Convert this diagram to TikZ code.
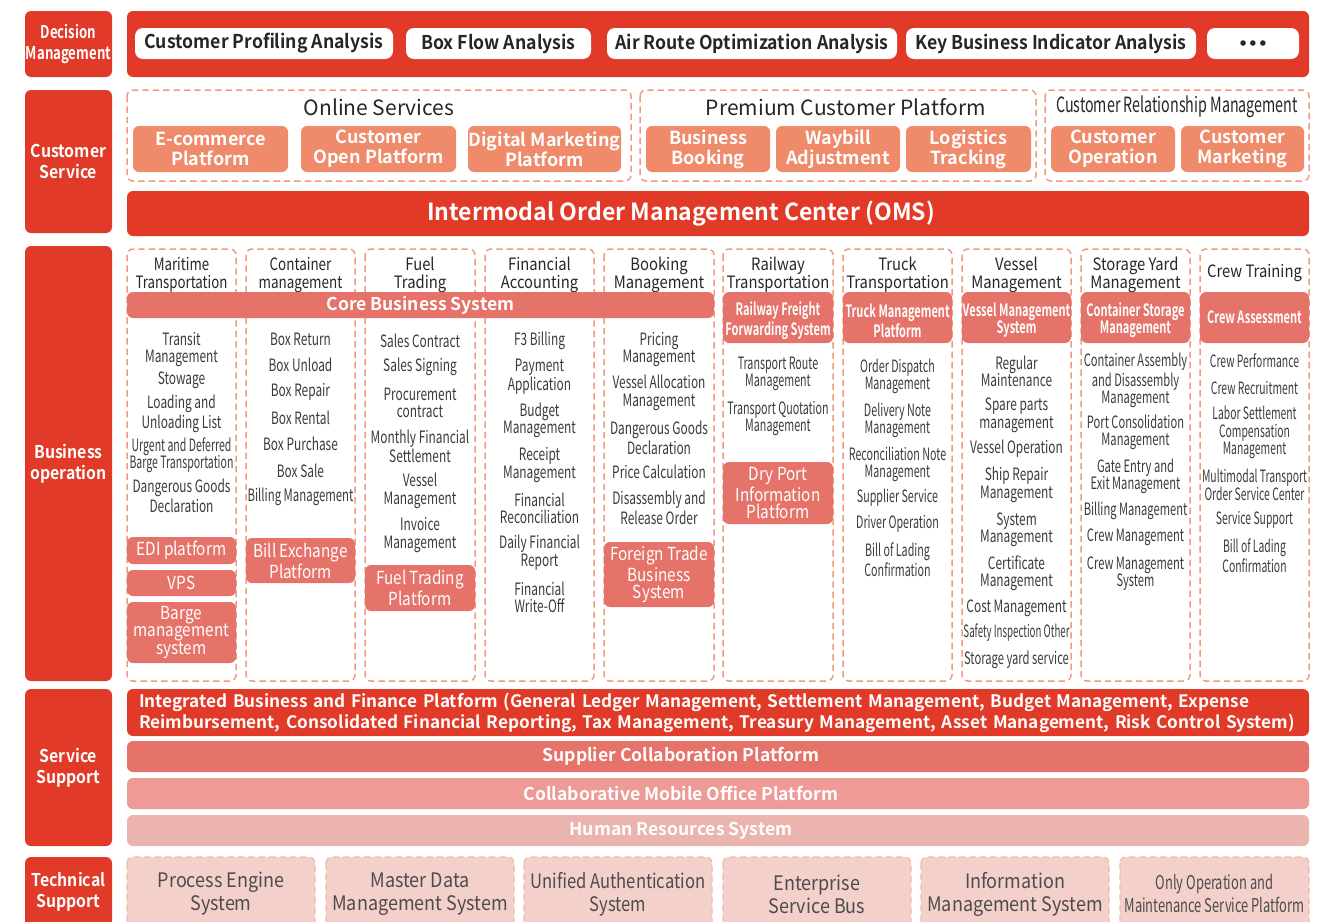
\documentclass[tikz,border=0pt]{standalone}
\usepackage{fontspec}
\setmainfont{Noto Sans CJK SC}[BoldFont={Noto Sans CJK SC Bold}]
\newcommand{\condfont}[1]{\fontspec{Noto Sans CJK SC}[FakeStretch=#1]}
\newcommand{\condbold}[1]{\fontspec{Noto Sans CJK SC Bold}[FakeStretch=#1]}
\usepackage{tikz}

\definecolor{darkred}{HTML}{E13A28}
\definecolor{salmon}{HTML}{EF8B6B}
\definecolor{coral}{HTML}{E5736A}
\definecolor{rose}{HTML}{EE9A96}
\definecolor{blush}{HTML}{EBB4AE}
\definecolor{techpink}{HTML}{F4D0CB}
\definecolor{dashcol}{HTML}{F29A80}
\definecolor{itemgray}{HTML}{3A3A3A}

\tikzset{
  sidelabel/.style={fill=darkred, rounded corners=3pt},
  labeltext/.style={text=white, align=center, inner sep=0pt, font=\condbold{0.9}\fontsize{8.8}{10.3}\selectfont},
  redbar/.style={fill=darkred, rounded corners=3pt},
  pill/.style={fill=white, rounded corners=4pt},
  pilltext/.style={text=black!85, inner sep=0pt, font=\condbold{0.93}\fontsize{9.5}{11}\selectfont},
  group/.style={draw=dashcol, dashed, dash pattern=on 3.2pt off 2pt, line width=0.75pt, rounded corners=3pt},
  grouptitle/.style={text=black!85, inner sep=0pt, font=\fontsize{10.5}{13}\selectfont},
  csbox/.style={fill=salmon, rounded corners=3pt},
  csboxtext/.style={text=white, align=center, inner sep=0pt, font=\bfseries\fontsize{9}{10}\selectfont},
  bartext/.style={text=white, inner sep=0pt, xshift=-18.5pt, font=\condbold{0.98}\fontsize{11.75}{14}\selectfont},
  titlefont/.style={font=\condfont{#1}\fontsize{8.5}{9}\selectfont},
  coltitle/.style={text=black!85, align=center, inner sep=0pt, titlefont=0.87},
  subbox/.style={fill=coral, rounded corners=3pt},
  headtext/.style={text=white, align=center, inner sep=0pt, font=\condbold{0.65}\fontsize{8.5}{8.5}\selectfont},
  subtext/.style={text=white, align=center, inner sep=0pt, font=\condfont{0.85}\fontsize{9}{8.75}\selectfont},
  itemfont/.style={font=\condfont{#1}\fontsize{8.5}{8.75}\selectfont},
  item/.style={text=itemgray, align=center, inner sep=0pt, itemfont=0.70},
  supbar/.style={rounded corners=3pt},
  suptext/.style={text=white, inner sep=0pt, font=\bfseries\fontsize{8.8}{10.5}\selectfont},
  techbox/.style={fill=techpink, draw=dashcol!70, dashed, dash pattern=on 3.2pt off 2pt, line width=0.6pt, rounded corners=3pt},
  techfont/.style={font=\condfont{#1}\fontsize{10}{11.5}\selectfont},
  techtext/.style={text=black!70, align=center, inner sep=0pt, yshift=-1pt, techfont=0.9}
}

\begin{document}
\begin{tikzpicture}[x=0.5pt, y=-0.5pt]

    \useasboundingbox (0,0) rectangle (1333,921);
    \clip (0,0) rectangle (1333,921);

    % decision management
    \path[sidelabel] (25,11) rectangle node[labeltext, font=\condbold{0.75}\fontsize{8.8}{10.3}\selectfont] (dm) {Decision\\Management} (112,77);
    \path[redbar] (127,11) rectangle (1309,77);
    \path[pill] (135,28) rectangle node[pilltext] (cpa) {Customer Profiling Analysis} (393,59);
    \path[pill] (406,28) rectangle node[pilltext] (bfa) {Box Flow Analysis} (591,59);
    \path[pill] (607,28) rectangle node[pilltext] (aro) {Air Route Optimization Analysis} (897,59);
    \path[pill] (906,28) rectangle node[pilltext] (kbi) {Key Business Indicator Analysis} (1196,59);
    \path[pill] (1207,28) rectangle node[pilltext, font=\fontsize{5.8}{7}\selectfont] (more) {${\bullet}\kern1.1pt{\bullet}\kern1.1pt{\bullet}$} (1299,59);

    % customer service
    \path[sidelabel] (25,90) rectangle node[labeltext] (cs) {Customer\\Service} (112,233);

    \path[group] (127,90) rectangle (631,181);
    \node[grouptitle] (os) at (379,107) {Online Services};
    \path[csbox] (133,126) rectangle node[csboxtext] (ecp) {E-commerce\\Platform} (288,172);
    \path[csbox] (301,126) rectangle node[csboxtext] (cop) {Customer\\Open Platform} (456,172);
    \path[csbox] (468,126) rectangle node[csboxtext] (dmp) {Digital Marketing\\Platform} (621,172);

    \path[group] (640,90) rectangle (1036,181);
    \node[grouptitle] (pcp) at (846,107) {Premium Customer Platform};
    \path[csbox] (646,126) rectangle node[csboxtext] (bb) {Business\\Booking} (770,172);
    \path[csbox] (776,126) rectangle node[csboxtext] (wa) {Waybill\\Adjustment} (900,172);
    \path[csbox] (906,126) rectangle node[csboxtext] (lt) {Logistics\\Tracking} (1031,172);

    \path[group] (1045,90) rectangle (1309,181);
    \node[grouptitle, font=\condfont{0.68}\fontsize{10.5}{13}\selectfont] (crm) at (1177,107) {Customer Relationship Management};
    \path[csbox] (1051,126) rectangle node[csboxtext] (co) {Customer\\Operation} (1175,172);
    \path[csbox] (1181,126) rectangle node[csboxtext] (cmk) {Customer\\Marketing} (1304,172);

    \path[redbar] (127,191) rectangle node[bartext] (oms) {Intermodal Order Management Center (OMS)} (1309,236);

    % business operation
    \path[sidelabel] (25,246) rectangle node[labeltext] (bo) {Business\\operation} (112,681);

    \path[group] (127,249) rectangle (236,681);
    \path[group] (246,249) rectangle (355,681);
    \path[group] (365,249) rectangle (475,681);
    \path[group] (485,249) rectangle (594,681);
    \path[group] (604,249) rectangle (714,681);
    \path[group] (723,249) rectangle (833,681);
    \path[group] (843,249) rectangle (952,681);
    \path[group] (962,249) rectangle (1071,681);
    \path[group] (1081,249) rectangle (1190,681);
    \path[group] (1200,249) rectangle (1309,681);

    \node[coltitle, titlefont=0.78] (t1) at (181.5,275) {Maritime\\Transportation};
    \node[coltitle, titlefont=0.79] (t2) at (300.5,275) {Container\\management};
    \node[coltitle] (t3) at (420,275) {Fuel\\Trading};
    \node[coltitle] (t4) at (539.5,275) {Financial\\Accounting};
    \node[coltitle] (t5) at (659,275) {Booking\\Management};
    \node[coltitle] (t6) at (778,275) {Railway\\Transportation};
    \node[coltitle] (t7) at (897.5,275) {Truck\\Transportation};
    \node[coltitle] (t8) at (1016.5,275) {Vessel\\Management};
    \node[coltitle] (t9) at (1135.5,275) {Storage Yard\\Management};
    \node[coltitle] (t10) at (1254.5,273) {Crew Training};

    \path[subbox] (127,292) rectangle node[suptext] (cbs) {Core Business System} (714,318);
    \path[subbox] (723,292) rectangle node[headtext, yshift=-1.5pt] (h6) {Railway Freight\\Forwarding System} (833,343);
    \path[subbox] (843,292) rectangle node[headtext, yshift=-1.5pt] (h7) {Truck Management\\Platform} (952,343);
    \path[subbox] (962,292) rectangle node[headtext, yshift=-1.5pt] (h8) {Vessel Management\\System} (1071,343);
    \path[subbox] (1081,292) rectangle node[headtext, yshift=-1.5pt] (h9) {Container Storage\\Management} (1190,343);
    \path[subbox] (1200,292) rectangle node[headtext] (h10) {Crew Assessment} (1309,343);

    % maritime
    \node[item] (mt1) at (181.5,349.5) {Transit\\Management};
    \node[item] (mt2) at (181.5,380) {Stowage};
    \node[item] (mt3) at (181.5,414) {Loading and\\Unloading List};
    \node[item, itemfont=0.62] (mt4) at (181.5,455) {Urgent and Deferred\\Barge Transportation};
    \node[item] (mt5) at (181.5,495.5) {Dangerous Goods\\Declaration};
    \path[subbox] (127,537) rectangle node[subtext] (edi) {EDI platform} (236,564);
    \path[subbox] (127,570) rectangle node[subtext] (vps) {VPS} (236,596);
    \path[subbox] (127,602) rectangle node[subtext] (bms) {Barge\\management\\system} (236,663);

    % container
    \node[item] (cm1) at (300.5,339) {Box Return};
    \node[item] (cm2) at (300.5,365) {Box Unload};
    \node[item] (cm3) at (300.5,392) {Box Repair};
    \node[item] (cm4) at (300.5,418) {Box Rental};
    \node[item] (cm5) at (300.5,444) {Box Purchase};
    \node[item] (cm6) at (300.5,471) {Box Sale};
    \node[item, itemfont=0.67] (cm7) at (300.5,497) {Billing Management};
    \path[subbox] (246,538) rectangle node[subtext] (bep) {Bill Exchange\\Platform} (355,583);

    % fuel
    \node[item] (ft1) at (420,341) {Sales Contract};
    \node[item] (ft2) at (420,367) {Sales Signing};
    \node[item] (ft3) at (420,403) {Procurement\\contract};
    \node[item] (ft4) at (420,446.5) {Monthly Financial\\Settlement};
    \node[item] (ft5) at (420,491) {Vessel\\Management};
    \node[item] (ft6) at (420,535) {Invoice\\Management};
    \path[subbox] (365,565) rectangle node[subtext] (ftp) {Fuel Trading\\Platform} (475,611);

    % financial
    \node[item] (fa1) at (539.5,341) {F3 Billing};
    \node[item] (fa2) at (539.5,376.5) {Payment\\Application};
    \node[item] (fa3) at (539.5,420.5) {Budget\\Management};
    \node[item] (fa4) at (539.5,465) {Receipt\\Management};
    \node[item] (fa5) at (539.5,508.5) {Financial\\Reconciliation};
    \node[item] (fa6) at (539.5,552.5) {Daily Financial\\Report};
    \node[item] (fa7) at (539.5,597.5) {Financial\\Write-Off};

    % booking
    \node[item] (bk1) at (659,349.5) {Pricing\\Management};
    \node[item] (bk2) at (659,393) {Vessel Allocation\\Management};
    \node[item] (bk3) at (659,437.5) {Dangerous Goods\\Declaration};
    \node[item] (bk4) at (659,472) {Price Calculation};
    \node[item] (bk5) at (659,508) {Disassembly and\\Release Order};
    \path[subbox] (604,542) rectangle node[subtext] (ftb) {Foreign Trade\\Business\\System} (714,607);

    % railway
    \node[item, itemfont=0.63] (rw1) at (778,374) {Transport Route\\Management};
    \node[item, itemfont=0.63] (rw2) at (778,418.5) {Transport Quotation\\Management};
    \path[subbox] (723,462) rectangle node[subtext] (dpi) {Dry Port\\Information\\Platform} (833,524);

    % truck
    \node[item, itemfont=0.63] (tr1) at (897.5,376.5) {Order Dispatch\\Management};
    \node[item, itemfont=0.63] (tr2) at (897.5,420.5) {Delivery Note\\Management};
    \node[item, itemfont=0.63] (tr3) at (897.5,464.5) {Reconciliation Note\\Management};
    \node[item, itemfont=0.63] (tr4) at (897.5,498) {Supplier Service};
    \node[item, itemfont=0.63] (tr5) at (897.5,524) {Driver Operation};
    \node[item, itemfont=0.63] (tr6) at (897.5,560) {Bill of Lading\\Confirmation};

    % vessel
    \node[item] (vm1) at (1016.5,371.5) {Regular\\Maintenance};
    \node[item] (vm2) at (1016.5,415.5) {Spare parts\\management};
    \node[item] (vm3) at (1016.5,449) {Vessel Operation};
    \node[item] (vm4) at (1016.5,485) {Ship Repair\\Management};
    \node[item] (vm5) at (1016.5,530) {System\\Management};
    \node[item] (vm6) at (1016.5,573) {Certificate\\Management};
    \node[item] (vm7) at (1016.5,608) {Cost Management};
    \node[item, itemfont=0.57] (vm8) at (1016.5,633) {Safety Inspection Other};
    \node[item, itemfont=0.66] (vm9) at (1016.5,660) {Storage yard service};

    % storage yard
    \node[item, itemfont=0.655] (sy1) at (1135.5,380.5) {Container Assembly\\and Disassembly\\Management};
    \node[item, itemfont=0.655] (sy2) at (1135.5,432.5) {Port Consolidation\\Management};
    \node[item, itemfont=0.655] (sy3) at (1135.5,476.5) {Gate Entry and\\Exit Management};
    \node[item, itemfont=0.655] (sy4) at (1135.5,511) {Billing Management};
    \node[item, itemfont=0.655] (sy5) at (1135.5,537) {Crew Management};
    \node[item, itemfont=0.655] (sy6) at (1135.5,573.5) {Crew Management\\System};

    % crew training
    \node[item, itemfont=0.61] (ct1) at (1254.5,361) {Crew Performance};
    \node[item, itemfont=0.61] (ct2) at (1254.5,388) {Crew Recruitment};
    \node[item, itemfont=0.61] (ct3) at (1254.5,432.5) {Labor Settlement\\Compensation\\Management};
    \node[item, itemfont=0.61] (ct4) at (1254.5,485) {Multimodal Transport\\Order Service Center};
    \node[item, itemfont=0.61] (ct5) at (1254.5,520) {Service Support};
    \node[item, itemfont=0.61] (ct6) at (1254.5,555.5) {Bill of Lading\\Confirmation};

    % service support
    \path[sidelabel] (25,689) rectangle node[labeltext] (ss) {Service\\Support} (112,846);
    \path[redbar] (127,689) rectangle node[suptext, font=\bfseries\fontsize{8.6}{10.5}\selectfont, align=left, text width=579pt] (ibf) {Integrated Business and Finance Platform (General Ledger Management, Settlement Management, Budget Management, Expense\\Reimbursement, Consolidated Financial Reporting, Tax Management, Treasury Management, Asset Management, Risk Control System)} (1309,736);
    \path[supbar, fill=coral] (127,741) rectangle node[suptext, xshift=-18.5pt] (scp) {Supplier Collaboration Platform} (1309,772);
    \path[supbar, fill=rose] (127,778) rectangle node[suptext, xshift=-18.5pt] (cmo) {Collaborative Mobile Office Platform} (1309,809);
    \path[supbar, fill=blush] (127,815) rectangle node[suptext, xshift=-18.5pt] (hrs) {Human Resources System} (1309,846);

    % technical support
    \path[sidelabel] (25,857) rectangle node[labeltext] (ts) {Technical\\Support} (112,927);
    \path[techbox] (127,857) rectangle node[techtext] (pes) {Process Engine\\System} (315,927);
    \path[techbox] (326,857) rectangle node[techtext] (mdm) {Master Data\\Management System} (514,927);
    \path[techbox] (524,857) rectangle node[techtext, techfont=0.83] (uas) {Unified Authentication\\System} (712,927);
    \path[techbox] (723,857) rectangle node[techtext] (esb) {Enterprise\\Service Bus} (911,927);
    \path[techbox] (921,857) rectangle node[techtext] (ims) {Information\\Management System} (1109,927);
    \path[techbox] (1120,857) rectangle node[techtext, font=\condfont{0.68}\fontsize{9.5}{11.5}\selectfont] (oms2) {Only Operation and\\Maintenance Service Platform} (1309,927);

\end{tikzpicture}
\end{document}
